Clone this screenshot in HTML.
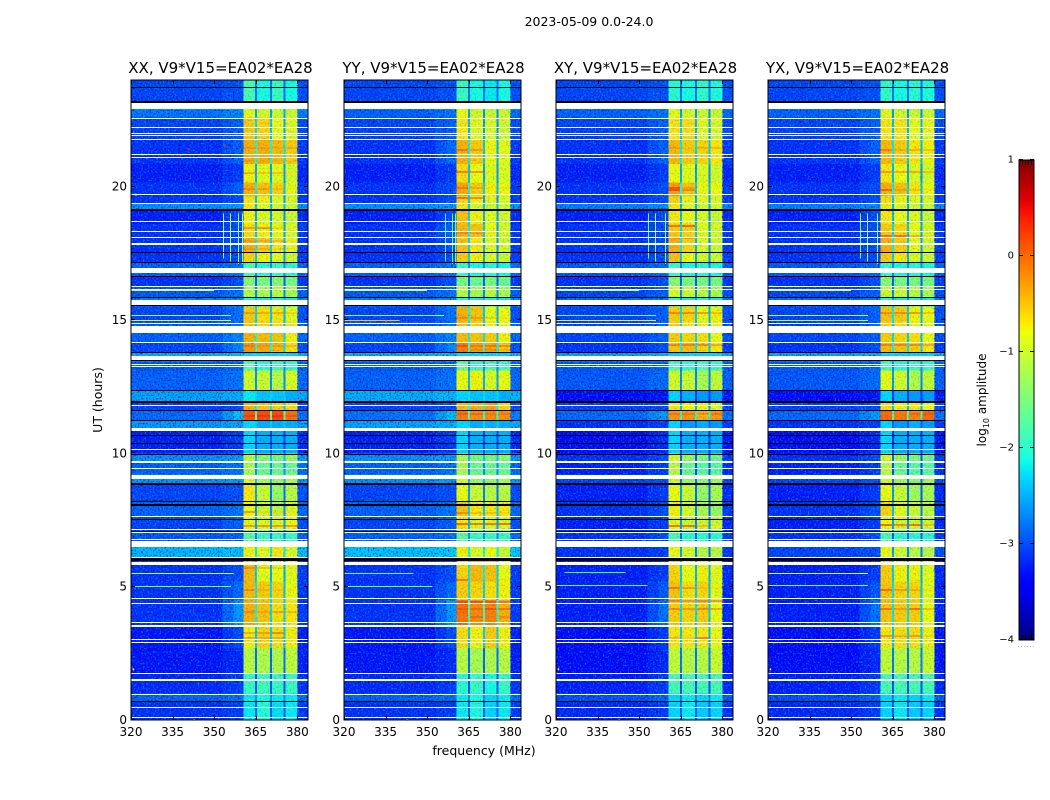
<!DOCTYPE html>
<html lang="en">
<head>
<meta charset="utf-8">
<title>2023-05-09 0.0-24.0</title>
<style>
html,body{margin:0;padding:0;background:#fff;width:1050px;height:800px;overflow:hidden}
svg{display:block}
text{font-family:"DejaVu Sans","Liberation Sans",sans-serif;fill:#000}
</style>
</head>
<body>
<svg id="chart" width="1050" height="800" viewBox="0 0 1050 800" xmlns="http://www.w3.org/2000/svg">
  <defs>
    <filter id="speckle-light" x="0" y="0" width="100%" height="100%" color-interpolation-filters="sRGB">
      <feTurbulence type="fractalNoise" baseFrequency="0.6" numOctaves="1" seed="4"/>
      <feColorMatrix type="matrix" values="0 0 0 0 0  0 0 0 0 .7  0 0 0 0 1  2.4 0 0 0 -1.2"/>
    </filter>
    <filter id="speckle-dark" x="0" y="0" width="100%" height="100%" color-interpolation-filters="sRGB">
      <feTurbulence type="fractalNoise" baseFrequency="0.6" numOctaves="1" seed="11"/>
      <feColorMatrix type="matrix" values="0 0 0 0 0  0 0 0 0 0  0 0 0 0 .6  0 2.4 0 0 -1.2"/>
    </filter>
    <linearGradient id="jet-gradient" x1="0" y1="1" x2="0" y2="0"></linearGradient>
  </defs>
  <rect x="0" y="0" width="1050" height="800" fill="#fff"/>
  <text x="589" y="26" font-size="12.5" text-anchor="middle">2023-05-09 0.0-24.0</text>
  <text x="484" y="755" font-size="12.5" text-anchor="middle">frequency (MHz)</text>
  <text transform="translate(102 400) rotate(-90)" font-size="12.5" text-anchor="middle">UT (hours)</text>
  <text transform="translate(986 400) rotate(-90)" font-size="12" text-anchor="middle">log<tspan font-size="8" dy="3">10</tspan><tspan dy="-3"> amplitude</tspan></text>
  <g id="panels"></g>
  <g id="colorbar"></g>
</svg>
<script>
// ---------- data ----------
const panelTitles = ["XX, V9*V15=EA02*EA28", "YY, V9*V15=EA02*EA28", "XY, V9*V15=EA02*EA28", "YX, V9*V15=EA02*EA28"];
const xTickLabels = [320, 335, 350, 365, 380];
const yTickLabels = [0, 5, 10, 15, 20];
const colorbarTicks = [1, 0, -1, -2, -3, -4];

// frequency bin edges (MHz) and which level of a row each bin shows
const freqEdges = [320, 335, 353, 357, 360.5, 364.8, 365.5, 370.1, 370.8, 375.1, 375.8, 380, 384];
const freqRoles = ["bg", "bg", "mid", "edge", "b1", "n1", "b2", "n2", "b3", "n3", "b4", "right"];

// time-band edges in hours, top to bottom
const rowHours = [24, 23.2, 22.9, 22.6, 21.75, 20.85, 20.15, 19.65, 19.35, 19.12, 18.6, 18.1, 17.55, 17.15, 16.65, 16.25, 15.85, 15.5, 14.95, 14.6, 14.15, 13.8, 13.45, 13.1, 12.38, 11.95, 11.62, 11.25, 10.85, 10, 9.72, 9.2, 8.87, 8.2, 7.62, 7.1, 6.72, 6.1, 5.2, 4.5, 3.5, 2.7, 1.75, 1, 0.7, 0];

// log10 amplitude per band: [background, edge, sub-band 1..4]
const levelsXX = [
[-3.0,-3.0,-1.8,-2.1,-1.9,-2.1],[-2.5,-2.5,-1.1,-1.2,-1.2,-1.2],[-2.75,-2.7,-.85,-.95,-1.0,-1.0],[-3.0,-2.9,-.55,-.6,-.8,-.85],[-3.1,-2.9,-.4,-.4,-.45,-.55],
[-3.2,-3.1,-.75,-.85,-.85,-.95],[-3.1,-2.9,-.4,-.5,-.6,-.85],[-3.1,-3.0,-.7,-.75,-.85,-.9],[-2.6,-2.6,-.7,-.9,-.95,-.95],[-3.2,-3.0,-.75,-.9,-.9,-1.0],
[-3.1,-3.0,-.65,-.75,-.8,-.9],[-3.1,-3.0,-.4,-.55,-.7,-.85],[-3.1,-3.0,-.6,-.75,-.85,-.95],[-2.85,-2.8,-1.8,-2.0,-1.9,-2.0],[-3.1,-3.0,-1.4,-1.5,-1.4,-1.5],
[-2.9,-2.8,-1.15,-1.2,-1.1,-1.2],[-2.7,-2.7,-2.1,-2.2,-2.1,-2.2],[-3.0,-2.8,-.55,-.65,-.7,-.85],[-2.9,-2.8,-.5,-.6,-.65,-.7],[-2.85,-2.7,-.4,-.45,-.5,-.75],
[-3.0,-2.7,-.25,-.35,-.45,-.65],[-2.45,-2.45,-2.3,-2.3,-2.3,-2.3],[-2.9,-2.9,-1.7,-2.0,-1.8,-1.9],[-2.85,-2.8,-.95,-1.0,-1.1,-.9],[-2.5,-2.5,-2.2,-2.4,-2.4,-2.5],
[-3.0,-3.0,-.4,-.5,-.55,-.65],[-2.8,-2.4,.1,.15,.15,-.05],[-2.55,-2.55,-2.3,-2.5,-2.5,-2.5],[-3.2,-3.1,-2.3,-2.5,-2.5,-2.5],[-2.6,-2.6,-1.1,-1.4,-1.5,-1.3],
[-2.85,-2.8,-1.2,-1.6,-1.6,-1.6],[-2.6,-2.6,-.85,-1.2,-1.3,-1.15],[-3.0,-3.0,-.7,-1.0,-1.3,-1.1],[-2.85,-2.8,-.8,-1.0,-1.1,-.9],[-3.0,-2.9,-.85,-.9,-.9,-.8],
[-2.9,-2.9,-1.7,-1.9,-1.9,-1.9],[-2.4,-2.4,-.75,-.85,-.7,-.9],[-3.1,-3.0,-.45,-.85,-.8,-.85],[-3.1,-2.85,-.45,-.55,-.6,-.8],[-3.1,-2.6,-.4,-.5,-.65,-.7],
[-3.25,-3.0,-.75,-.6,-.65,-.75],[-3.25,-3.2,-1.1,-1.15,-1.15,-1.05],[-3.15,-3.1,-1.9,-1.85,-1.9,-1.9],[-2.85,-2.85,-2.2,-2.1,-2.2,-2.2],[-3.1,-3.1,-2.2,-2.05,-2.25,-2.2]
];
const levelsYY = [
[-3.0,-3.0,-1.9,-2.1,-2.2,-2.1],[-2.55,-2.55,-1.1,-1.2,-1.2,-1.2],[-2.85,-2.8,-.8,-.95,-1.0,-1.0],[-3.0,-2.9,-.7,-.85,-.9,-.95],[-3.1,-2.85,-.4,-.55,-.8,-.85],
[-3.2,-3.1,-.65,-.8,-.9,-.9],[-3.1,-3.0,-.35,-.55,-.75,-.8],[-3.1,-3.0,-.6,-.75,-.9,-.95],[-2.6,-2.6,-.7,-.9,-.95,-.95],[-3.2,-3.0,-.5,-.75,-.85,-.95],
[-3.1,-2.9,-.45,-.5,-.8,-.95],[-3.1,-3.0,-.5,-.7,-.85,-.95],[-3.1,-3.0,-.55,-.75,-.9,-1.0],[-2.85,-2.8,-1.9,-2.1,-2.0,-2.1],[-3.1,-3.0,-1.5,-1.6,-1.5,-1.6],
[-2.9,-2.8,-1.1,-1.2,-1.1,-1.2],[-2.7,-2.7,-2.1,-2.2,-2.1,-2.2],[-3.0,-2.8,-.4,-.5,-.85,-.8],[-2.9,-2.8,-.5,-.6,-.75,-.8],[-2.85,-2.7,-.45,-.5,-.55,-.75],
[-3.0,-2.7,-.1,-.3,-.35,-.55],[-2.45,-2.45,-2.3,-2.3,-2.3,-2.3],[-2.9,-2.9,-1.6,-1.9,-1.8,-1.9],[-2.85,-2.8,-.8,-.75,-.9,-.8],[-2.45,-2.45,-2.3,-2.4,-2.4,-2.5],
[-3.0,-3.0,-.45,-.4,-.3,-.6],[-2.75,-2.4,-.1,-.2,-.2,-.2],[-2.5,-2.5,-2.3,-2.5,-2.5,-2.5],[-3.2,-3.1,-2.3,-2.5,-2.5,-2.5],[-2.6,-2.6,-1.2,-1.5,-1.5,-1.4],
[-2.85,-2.8,-1.2,-1.6,-1.6,-1.6],[-2.6,-2.6,-.9,-1.3,-1.3,-1.2],[-3.0,-3.0,-.8,-1.0,-1.1,-1.1],[-2.85,-2.8,-.5,-.7,-.7,-.7],[-3.0,-2.9,-.7,-.9,-.9,-.95],
[-2.85,-2.85,-1.7,-1.9,-1.9,-1.9],[-2.35,-2.35,-.75,-.9,-.8,-1.0],[-3.1,-3.0,-.6,-.45,-.5,-.8],[-3.1,-2.85,-.55,-.6,-.65,-.75],[-3.1,-2.6,-.05,-.2,-.15,-.4],
[-3.25,-3.0,-.65,-.75,-.55,-.75],[-3.25,-3.2,-1.1,-1.2,-1.15,-1.1],[-3.15,-3.1,-2.0,-1.9,-2.1,-1.9],[-2.85,-2.85,-2.2,-2.1,-2.3,-2.2],[-3.1,-3.1,-2.2,-2.1,-2.3,-2.2]
];
const levelsXY = [
[-3.0,-3.0,-2.0,-2.1,-1.95,-2.05],[-2.7,-2.7,-1.1,-1.2,-1.2,-1.2],[-2.85,-2.8,-.85,-.95,-1.0,-1.0],[-3.0,-2.9,-.7,-.65,-.85,-.9],[-3.1,-2.9,-.45,-.55,-.6,-.7],
[-3.2,-3.1,-.8,-.85,-.9,-.95],[-3.1,-3.0,-.3,-.5,-.8,-.8],[-3.1,-3.0,-.6,-.75,-.85,-.9],[-2.7,-2.65,-.7,-.9,-.95,-.95],[-3.2,-3.0,-.7,-.8,-.9,-1.0],
[-3.1,-3.0,-.55,-.6,-.85,-.95],[-3.1,-3.0,-.4,-.6,-.9,-1.0],[-3.1,-3.0,-.5,-.8,-.95,-1.0],[-2.9,-2.85,-1.9,-2.1,-2.0,-2.1],[-3.1,-3.0,-1.4,-1.5,-1.5,-1.5],
[-3.0,-2.9,-.9,-1.0,-1.1,-1.2],[-2.8,-2.8,-2.1,-2.2,-2.1,-2.2],[-3.0,-2.9,-.55,-.6,-.8,-.75],[-3.0,-2.85,-.6,-.7,-.75,-.8],[-3.0,-2.9,-.55,-.6,-.65,-.8],
[-3.1,-3.0,-.5,-.45,-.6,-.7],[-2.5,-2.5,-2.3,-2.3,-2.3,-2.3],[-2.9,-2.9,-1.8,-2.0,-1.8,-1.9],[-2.9,-2.85,-.95,-1.0,-1.2,-1.05],[-3.3,-3.3,-2.3,-2.5,-2.6,-2.6],
[-3.0,-3.0,-.7,-.75,-.75,-.85],[-2.8,-2.6,-.25,-.25,-.4,-.25],[-3.1,-3.1,-2.3,-2.6,-2.5,-2.6],[-3.3,-3.2,-2.3,-2.5,-2.5,-2.5],[-3.1,-3.0,-.95,-1.3,-1.5,-1.6],
[-3.2,-3.1,-1.1,-1.6,-1.7,-1.7],[-3.0,-3.0,-.95,-1.3,-1.4,-1.25],[-3.2,-3.1,-.8,-1.0,-1.3,-1.2],[-3.1,-3.0,-.75,-.95,-1.2,-1.3],[-3.2,-3.1,-.85,-1.0,-1.0,-1.0],
[-3.1,-3.0,-1.8,-2.0,-2.0,-2.0],[-3.1,-3.1,-.8,-.95,-1.1,-1.1],[-3.2,-3.1,-.6,-.8,-.75,-.85],[-3.2,-2.95,-.5,-.65,-.6,-.85],[-3.2,-2.8,-.55,-.6,-.55,-.8],
[-3.3,-3.1,-.7,-.7,-.7,-.8],[-3.3,-3.2,-1.05,-1.1,-1.1,-1.0],[-3.2,-3.1,-1.8,-1.8,-1.8,-1.8],[-2.95,-2.9,-2.3,-2.2,-2.3,-2.2],[-3.15,-3.1,-2.3,-2.2,-2.35,-2.3]
];
const levelsYX = [
[-3.0,-3.0,-1.95,-2.1,-2.0,-2.05],[-2.7,-2.7,-1.1,-1.2,-1.2,-1.2],[-2.85,-2.8,-.85,-.95,-1.0,-1.0],[-3.0,-2.9,-.7,-.7,-.8,-.8],[-3.1,-2.9,-.45,-.55,-.7,-.75],
[-3.2,-3.1,-.7,-.8,-.9,-.95],[-3.1,-3.0,-.4,-.5,-.7,-.8],[-3.1,-3.0,-.65,-.75,-.85,-.9],[-2.7,-2.65,-.75,-.9,-.95,-.95],[-3.2,-3.0,-.7,-.8,-.85,-1.0],
[-3.1,-3.0,-.55,-.6,-.8,-.9],[-3.1,-3.0,-.4,-.55,-.8,-.95],[-3.1,-3.0,-.55,-.7,-.9,-1.0],[-2.9,-2.85,-1.9,-2.1,-2.0,-2.1],[-3.1,-3.0,-1.4,-1.5,-1.5,-1.5],
[-3.0,-2.9,-1.0,-1.0,-1.1,-1.2],[-2.8,-2.8,-2.1,-2.2,-2.1,-2.2],[-3.0,-2.9,-.5,-.55,-.75,-.8],[-3.0,-2.85,-.6,-.65,-.75,-.8],[-3.0,-2.9,-.55,-.6,-.65,-.8],
[-3.1,-3.0,-.45,-.5,-.55,-.7],[-2.5,-2.5,-2.3,-2.3,-2.3,-2.3],[-2.9,-2.9,-1.8,-2.0,-1.9,-1.9],[-2.9,-2.85,-.85,-.95,-1.15,-1.05],[-3.3,-3.3,-2.3,-2.5,-2.6,-2.6],
[-3.0,-3.0,-.65,-.75,-.7,-.8],[-2.8,-2.6,0,-.1,-.15,0],[-3.1,-3.1,-2.3,-2.6,-2.5,-2.6],[-3.3,-3.2,-2.3,-2.5,-2.5,-2.5],[-3.1,-3.0,-.95,-1.3,-1.5,-1.6],
[-3.2,-3.1,-1.1,-1.6,-1.7,-1.7],[-3.0,-3.0,-.9,-1.25,-1.4,-1.25],[-3.2,-3.1,-.8,-1.0,-1.25,-1.2],[-3.1,-3.0,-.6,-.85,-1.0,-1.1],[-3.2,-3.1,-.8,-.95,-1.0,-1.0],
[-3.1,-3.0,-1.8,-2.0,-2.0,-2.0],[-3.0,-3.0,-.8,-.95,-1.1,-1.1],[-3.2,-3.1,-.55,-.75,-.75,-.85],[-3.2,-2.95,-.5,-.6,-.6,-.85],[-3.2,-2.8,-.5,-.55,-.55,-.8],
[-3.3,-3.1,-.7,-.65,-.65,-.75],[-3.3,-3.2,-1.05,-1.1,-1.1,-1.0],[-3.2,-3.1,-1.8,-1.8,-1.8,-1.8],[-2.95,-2.9,-2.3,-2.2,-2.3,-2.2],[-3.15,-3.1,-2.3,-2.2,-2.35,-2.3]
];
const panelLevels = [levelsXX, levelsYY, levelsXY, levelsYX];

// thin brighter stripes within the sub-bands: [hour, sub-band 1..4]
const stripesXX = [[21.5,-.25,-.3,-.35,-.4],[21.0,-.3,-.35,-.4,-.5],[20.55,-.45,-.55,-.5,-.7],[19.95,-.2,-.3,-.45,-.75],[18.5,-.3,-.3,-.6,-.8],[18.0,-.3,-.4,-.5,-.7],[17.7,-.25,-.4,-.6,-.7],[15.3,-.3,-.4,-.4,-.6],[14.05,-.1,-.25,-.3,-.5],[11.45,.25,.3,.3,.1],[7.85,-.3,-.6,-.6,-.7],[7.3,-.3,-.3,-.3,-.3],[5.75,-.2,-.5,-.6,-.7],[4.9,-.2,-.4,-.5,-.7],[4.1,-.2,-.35,-.35,-.5],[3.3,-.4,-.3,-.2,-.7],[3.1,-.4,-.4,-.4,-.7]];
const stripesYY = [[21.4,-.1,-.3,-.7,-.8],[20.6,-.15,-.3,-.7,-.8],[20.0,-.1,-.4,-.7,-.7],[19.6,-.1,-.25,-.7,-.8],[18.3,-.2,-.3,-.7,-.8],[15.1,-.2,-.3,-.6,-.7],[14.05,.1,-.1,-.1,-.2],[13.9,-.1,-.2,-.2,-.4],[11.5,.05,.0,-.1,-.1],[7.8,-.2,-.5,-.5,-.6],[7.4,.0,-.1,-.1,-.1],[5.3,-.1,-.4,-.5,-.7],[4.45,.1,.1,.1,-.1],[4.2,.1,.0,.1,-.1],[3.9,-.1,.0,-.1,-.2]];
const stripesXY = [[21.5,-.3,-.5,-.4,-.5],[20.0,.1,-.3,-.8,-.8],[19.9,.1,-.2,-.8,-.8],[18.55,-.1,0,-.8,-.8],[18.1,-.2,-.3,-.7,-.9],[15.3,-.2,-.2,-.3,-.5],[14.1,-.2,-.15,-.2,-.4],[11.5,-.1,-.1,-.2,-.1],[7.3,-.1,-.1,-.5,-.9],[5.0,-.1,-.3,-.5,-.7],[4.5,-.2,-.3,-.2,-.3],[4.2,-.2,-.3,-.2,-.4],[3.1,-.5,-.6,-.2,-.7]];
const stripesYX = [[21.4,-.15,-.4,-.4,-.5],[20.6,-.3,-.4,-.4,-.5],[19.9,0,-.3,-.5,-.7],[18.2,-.1,-.1,-.5,-.7],[15.3,-.2,-.2,-.3,-.5],[14.1,-.15,-.15,-.2,-.4],[11.5,-.05,-.1,0,.1],[7.35,-.05,-.2,-.1,-.5],[4.9,-.05,-.3,-.4,-.7],[4.2,-.1,-.3,-.1,-.5],[3.2,-.3,-.4,-.3,-.6]];
const panelStripes = [stripesXX, stripesYY, stripesXY, stripesYX];

// flagged (blank) time ranges [later hour, earlier hour]
const whiteFlags = [[23.13,22.92],[22.58,22.54],[22.25,22.21],[22.02,21.98],[21.92,21.88],[21.8,21.76],[21.23,21.19],[21.12,21.08],[19.73,19.69],[19.4,19.36],[18.72,18.68],[18.33,18.29],[18.12,18.08],[17.9,17.82],[16.95,16.77],[16.28,16.24],[16.17,16.13],[15.75,15.56],[14.9,14.86],[14.78,14.52],[14.18,14.14],[13.65,13.5],[13.36,13.32],[13.28,13.24],[11.82,11.78],[10.96,10.85],[10.18,10.14],[9.72,9.64],[9.46,9.42],[9.19,9.04],[7.64,7.6],[7.16,7.12],[7.06,7.02],[6.78,6.74],[6.72,6.48],[6.12,6.08],[5.92,5.82],[4.58,4.54],[4.4,4.36],[3.67,3.63],[3.58,3.54],[3.52,3.48],[3.05,3.01],[2.92,2.88],[1.77,1.73],[1.53,1.46],[0.98,0.94],[0.5,0.46],[0.12,0.08]];
// zero-amplitude time ranges drawn black
const blackFlags = [[23.72,23.68],[23.22,23.15],[19.15,19.08],[17.55,17.51],[17.16,17.11],[16.65,16.6],[15.88,15.83],[15.55,15.52],[13.79,13.75],[13.5,13.46],[12.39,12.36],[11.96,11.89],[11.62,11.59],[11.25,11.22],[10.69,10.66],[10.37,10.34],[9.99,9.96],[8.9,8.84],[8.21,8.16],[8.11,8.04],[7.54,7.5],[7.09,7.06],[6.07,5.94],[0.72,0.68]];

// horizontal RFI streaks per panel: [hour, from MHz, to MHz, level]
const streaksXX = [[5.53,320,357,-1.1],[5.04,320,356,-1.5],[16.13,320,350,-0.8],[15.19,320,356,-1.3],[15.0,320,356,-0.9]];
const streaksYY = [[5.52,320,345,-1.7],[5.03,320,352,-1.6],[16.12,320,350,-0.9],[15.19,320,356,-1.4],[15.0,320,340,-0.5]];
const streaksXY = [[5.55,323,345,-1.9],[5.05,320,353,-1.7],[16.13,320,350,-0.9],[15.19,320,356,-1.6],[15.0,320,356,-0.7]];
const streaksYX = [[5.53,320,356,-1.0],[5.05,320,356,-1.5],[16.13,320,350,-0.8],[15.19,320,356,-1.2],[15.0,320,356,-1.1]];
const panelStreaks = [streaksXX, streaksYY, streaksXY, streaksYX];

// vertical RFI lines per panel: [MHz, from hour, to hour, level]
const rfiXX = [[353.3,19.0,17.3,-1.4],[355.8,19.0,17.2,-1.3],[358.7,19.0,17.1,-1.4],[359.9,19.0,17.1,-1.3]];
const rfiYY = [[356.5,19.0,17.2,-1.9],[358.8,19.0,17.1,-1.7],[359.9,19.0,17.1,-1.7]];
const rfiXY = [[353.3,19.0,17.3,-1.6],[355.8,19.0,17.2,-1.4],[359.3,19.0,17.1,-1.5]];
const rfiYX = [[353.3,19.0,17.3,-1.6],[355.8,19.0,17.2,-1.4],[359.3,19.0,17.1,-1.5]];
const panelRfi = [rfiXX, rfiYY, rfiXY, rfiYX];

// isolated hot pixels per panel: [MHz, hour, level]
const spotsXX = [[353.6,21.55,0.3],[340.6,21.4,0.4],[321.5,19.7,-0.4],[320.6,1.9,-0.8],[342.5,0,-0.8]];
const spotsYY = [[320.6,1.9,-0.8],[342.5,0,-0.8],[335,14.95,0.1]];
const spotsXY = [[342.4,21.7,0.5],[353.6,21.3,0.3],[320.6,1.9,-0.8],[342.5,0,-0.8]];
const spotsYX = [[342.2,21.7,0.5],[353.6,21.3,0.3],[324,19.7,0.2],[320.6,1.9,-0.8]];
const panelSpots = [spotsXX, spotsYY, spotsXY, spotsYX];

// ---------- scales and drawing ----------
const SVGNS = "http://www.w3.org/2000/svg";
const panelLeft = [131, 344, 556, 768];
const plotTop = 80, plotHeight = 640, plotWidth = 177;
const freqMin = 320, freqMax = 383.85, hourMin = 0, hourMax = 24;

function xScale(panel, mhz) { return panelLeft[panel] + (Math.min(mhz, freqMax) - freqMin) / (freqMax - freqMin) * plotWidth; }
function yScale(hour) { return plotTop + (hourMax - hour) / (hourMax - hourMin) * plotHeight; }

function lerp(stops, t) {
  for (let i = 1; i < stops.length; i++) {
    if (t <= stops[i][0]) {
      const a = stops[i - 1], b = stops[i];
      return a[1] + (b[1] - a[1]) * (t - a[0]) / (b[0] - a[0]);
    }
  }
  return stops[stops.length - 1][1];
}
const jetR = [[0,0],[.35,0],[.66,1],[.89,1],[1,.5]];
const jetG = [[0,0],[.125,0],[.375,1],[.64,1],[.91,0],[1,0]];
const jetB = [[0,.5],[.11,1],[.34,1],[.65,0],[1,0]];
function colorScale(level) {
  const t = Math.max(0, Math.min(1, (level + 4) / 5));
  return "rgb(" + Math.round(lerp(jetR, t) * 255) + "," + Math.round(lerp(jetG, t) * 255) + "," + Math.round(lerp(jetB, t) * 255) + ")";
}
function make(tag, attrs, parent) {
  const el = document.createElementNS(SVGNS, tag);
  for (const k in attrs) el.setAttribute(k, attrs[k]);
  parent.appendChild(el);
  return el;
}
function levelForRole(row, role) {
  const [bg, edge, b1, b2, b3, b4] = row;
  if (role === "bg") return bg - 0.05;
  if (role === "mid") return (bg + edge) / 2;
  if (role === "edge") return edge;
  if (role === "right") return bg;
  if (role === "b1") return b1;
  if (role === "b2") return b2;
  if (role === "b3") return b3;
  if (role === "b4") return b4;
  if (role === "n1") return Math.max((b1 + b2) / 2 - 1.7, bg + 0.2);
  if (role === "n2") return Math.max((b2 + b3) / 2 - 1.7, bg + 0.2);
  return Math.max((b3 + b4) / 2 - 1.7, bg + 0.2);
}

const panelsRoot = document.getElementById("panels");
panelTitles.forEach(function (title, p) {
  const left = panelLeft[p];
  const g = make("g", {}, panelsRoot);
  
  

  const heat = make("g", { "shape-rendering": "crispEdges" }, g);
  
  
  panelLevels[p].forEach(function (row, r) {
    const y0 = yScale(rowHours[r]), y1 = yScale(rowHours[r + 1]);
    freqRoles.forEach(function (role, c) {
      const x0 = xScale(p, freqEdges[c]), x1 = xScale(p, freqEdges[c + 1]);
      const cell = make("rect", { x: x0, y: y0, width: x1 - x0, height: y1 - y0, fill: colorScale(levelForRole(row, role)) }, heat);
      
      
    });
  });
  panelStripes[p].forEach(function (stripe) {
    [[360.5, 364.8], [365.5, 370.1], [370.8, 375.1], [375.8, 380]].forEach(function (band, b) {
      const x0 = xScale(p, band[0]), x1 = xScale(p, band[1]);
      const mark = make("rect", { x: x0, y: Math.round(yScale(stripe[0])), width: x1 - x0, height: 2, fill: colorScale(stripe[b + 1]) }, heat);
      
      
    });
  });

  [[320, 360.5, 1], [360.5, 380, 0.3], [380, 384, 1]].forEach(function (region) {
    const x0 = xScale(p, region[0]), x1 = xScale(p, region[1]);
    const light = make("rect", { x: x0, y: plotTop, width: x1 - x0, height: plotHeight, filter: "url(#speckle-light)", opacity: region[2] }, g);
    
    
    const dark = make("rect", { x: x0, y: plotTop, width: x1 - x0, height: plotHeight, filter: "url(#speckle-dark)", opacity: region[2] }, g);
    
    
  });

  panelRfi[p].forEach(function (d) {
    const line = make("rect", { x: Math.round(xScale(p, d[0])), y: yScale(d[1]), width: 1, height: yScale(d[2]) - yScale(d[1]), fill: colorScale(d[3]), "shape-rendering": "crispEdges" }, g);
    
    
  });
  panelStreaks[p].forEach(function (d) {
    const line = make("rect", { x: xScale(p, d[1]), y: Math.round(yScale(d[0])), width: xScale(p, d[2]) - xScale(p, d[1]), height: 1, fill: colorScale(d[3]), "shape-rendering": "crispEdges" }, g);
    
    
  });
  panelSpots[p].forEach(function (d) {
    const spot = make("rect", { x: xScale(p, d[0]), y: yScale(d[1]) - 1, width: 1.5, height: 2, fill: colorScale(d[2]) }, g);
    
    
  });

  const flags = make("g", { "shape-rendering": "crispEdges" }, g);
  
  
  whiteFlags.forEach(function (d) {
    const band = make("rect", { x: left, y: Math.round(yScale(d[0])), width: plotWidth, height: Math.max(1, Math.round(yScale(d[1]) - yScale(d[0]))), fill: "#fff" }, flags);
    
    
  });
  blackFlags.forEach(function (d) {
    const band = make("rect", { x: left, y: Math.round(yScale(d[0])), width: plotWidth, height: Math.max(1, Math.round(yScale(d[1]) - yScale(d[0]))), fill: "#000" }, flags);
    
    
  });

  const frame = make("rect", { x: left, y: plotTop, width: plotWidth, height: plotHeight, fill: "none", stroke: "#000", "stroke-width": 1 }, g);
  
  

  const titleEl = make("text", { x: left + plotWidth / 2 + 1, y: plotTop - 7, "font-size": 15, "text-anchor": "middle" }, g);
  titleEl.textContent = title;
  
  

  xTickLabels.forEach(function (v) {
    const x = Math.round(xScale(p, v)) + 0.5;
    const t1 = make("line", { x1: x, x2: x, y1: plotTop + plotHeight, y2: plotTop + plotHeight - 4, stroke: "#000" }, g);
    
    
    const t2 = make("line", { x1: x, x2: x, y1: plotTop, y2: plotTop + 4, stroke: "#000" }, g);
    
    
    const lab = make("text", { x: xScale(p, v), y: plotTop + plotHeight + 16, "font-size": 12, "text-anchor": "middle" }, g);
    lab.textContent = v;
    
    
  });
  yTickLabels.forEach(function (v) {
    const y = Math.round(yScale(v)) - 0.5;
    const t1 = make("line", { x1: left, x2: left + 4, y1: y, y2: y, stroke: "#000" }, g);
    
    
    const t2 = make("line", { x1: left + plotWidth, x2: left + plotWidth - 4, y1: y, y2: y, stroke: "#000" }, g);
    
    
    const lab = make("text", { x: left - 4, y: yScale(v) + 4, "font-size": 12, "text-anchor": "end" }, g);
    lab.textContent = v;
    
    
  });
});

// ---------- colorbar ----------
const cbarLeft = 1019, cbarTop = 160, cbarWidth = 15, cbarHeight = 480, cbarMin = -4, cbarMax = 1;
function cbarY(level) { return cbarTop + (cbarMax - level) / (cbarMax - cbarMin) * cbarHeight; }
const gradient = document.getElementById("jet-gradient");
for (let i = 0; i <= 50; i++) {
  const stop = make("stop", { offset: (i * 2) + "%", "stop-color": colorScale(cbarMin + (cbarMax - cbarMin) * i / 50) }, gradient);
}
const cbarRoot = document.getElementById("colorbar");
const cbarFill = make("rect", { x: cbarLeft, y: cbarTop, width: cbarWidth, height: cbarHeight, fill: "url(#jet-gradient)" }, cbarRoot);


const cbarFrame = make("rect", { x: cbarLeft, y: cbarTop, width: cbarWidth, height: cbarHeight, fill: "none", stroke: "#000", "stroke-width": 1 }, cbarRoot);


colorbarTicks.forEach(function (v) {
  const y = Math.round(cbarY(v)) - 0.5;
  const l1 = make("line", { x1: cbarLeft, x2: cbarLeft + 4, y1: y, y2: y, stroke: "#000" }, cbarRoot);
  
  
  const l2 = make("line", { x1: cbarLeft + cbarWidth, x2: cbarLeft + cbarWidth - 4, y1: y, y2: y, stroke: "#000" }, cbarRoot);
  
  
  const lab = make("text", { x: cbarLeft - 5, y: cbarY(v) + 2.5, "font-size": 10, "text-anchor": "end" }, cbarRoot);
  lab.textContent = String(v).replace("-", "\u2212");
  
  
});
[3, 6, 9, 12].forEach(function (dx) {
  const top = make("line", { x1: cbarLeft + dx + 0.5, x2: cbarLeft + dx + 0.5, y1: cbarTop, y2: cbarTop + 5, stroke: "#000" }, cbarRoot);
  
  
  const bottom = make("line", { x1: cbarLeft + dx + 0.5, x2: cbarLeft + dx + 0.5, y1: cbarTop + cbarHeight, y2: cbarTop + cbarHeight - 5, stroke: "#000" }, cbarRoot);
  
  
});
const dots = make("text", { x: cbarLeft + cbarWidth / 2, y: 647, "font-size": 6, "text-anchor": "middle", "letter-spacing": "1", style: "fill:#777" }, cbarRoot);
dots.textContent = "......";


</script>
</body>
</html>
